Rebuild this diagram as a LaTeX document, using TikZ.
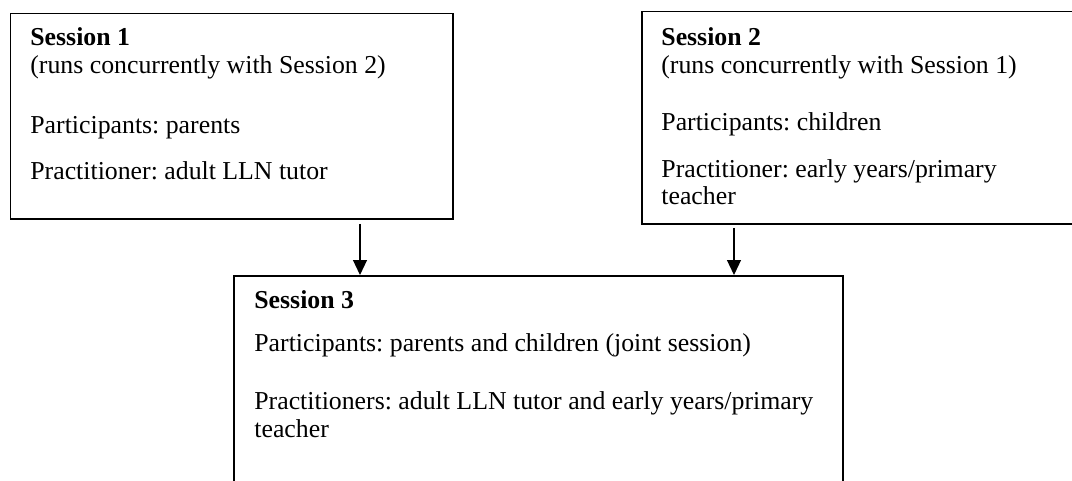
\documentclass[tikz,border=0pt]{standalone}
\usepackage{fontspec}
\setmainfont{Liberation Serif}
\usepackage{tikz}
\usetikzlibrary{arrows.meta}
\frenchspacing

\begin{document}
\begin{tikzpicture}[x=0.5pt, y=0.5pt,
    sessionbox/.style={draw, line width=0.8pt, inner sep=0pt, anchor=north west},
    sessiontext/.style={anchor=base west, inner sep=0pt, align=left,
      font=\fontsize{12.9pt}{13.5pt}\selectfont},
    flow/.style={line width=0.6pt, -{Triangle[width=7pt,length=7.5pt]}}]
          \useasboundingbox (0,0) rectangle (1072,-481);

          % Session boxes
          \node[sessionbox, minimum width=221.25pt, minimum height=102.65pt] (s1) at (9.5,-12.7) {};
          \node[sessionbox, minimum width=220pt, minimum height=106.3pt] (s2) at (641,-10.7) {};
          \node[sessionbox, minimum width=304.5pt, minimum height=130pt] (s3) at (233,-275) {};

          % Texts (placed at the baseline of their last line)
          \node[sessiontext] (t1) at (30,-180) {\textbf{Session 1}\\
            (runs concurrently with Session 2)\\[16.5pt]
            Participants: parents\\[10pt]
            Practitioner: adult LLN tutor};
          \node[sessiontext] (t2) at (661,-205) {\textbf{Session 2}\\
            (runs concurrently with Session 1)\\[15.5pt]
            Participants: children\\[10pt]
            Practitioner: early years/primary\\
            teacher};
          \node[sessiontext] (t3) at (254,-437) {\textbf{Session 3}\\[8pt]
            Participants: parents and children (joint session)\\[16pt]
            Practitioners: adult LLN tutor and early years/primary\\
            teacher};

          % Arrows into session 3
          \coordinate (a1) at (360,-224);
          \coordinate (a2) at (734,-228);
          \draw[flow] (a1) -- (a1 |- s3.north);
          \draw[flow] (a2) -- (a2 |- s3.north);
        \end{tikzpicture}
\end{document}
